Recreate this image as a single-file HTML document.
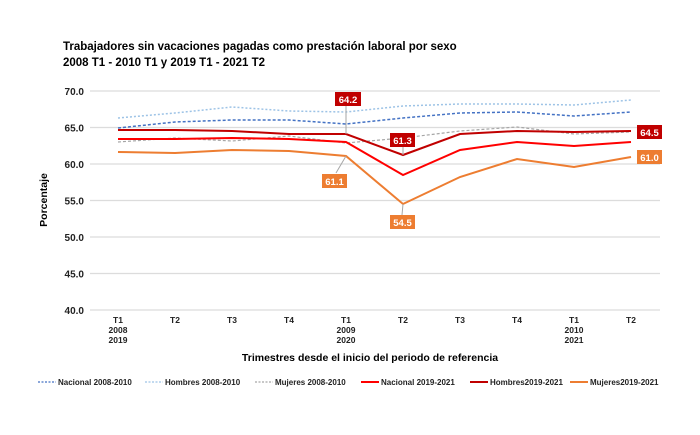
<!DOCTYPE html>
<html><head><meta charset="utf-8"><style>
body{margin:0;background:#fff;}
svg{display:block;font-family:"Liberation Sans",Arial,sans-serif;}
</style></head><body>
<svg width="700" height="435" viewBox="0 0 700 435" xmlns="http://www.w3.org/2000/svg">
<rect width="700" height="435" fill="#fff"/>
<text x="63" y="50" font-size="11.5" font-weight="bold" fill="#000">Trabajadores sin vacaciones pagadas como prestación laboral por sexo</text>
<text x="63" y="66" font-size="11.5" font-weight="bold" fill="#000">2008 T1 - 2010 T1 y 2019 T1 - 2021 T2</text>
<g stroke="#dcdcdc" stroke-width="1.2">
<line x1="90" y1="91" x2="660" y2="91"/><line x1="90" y1="127.5" x2="660" y2="127.5"/>
<line x1="90" y1="164" x2="660" y2="164"/><line x1="90" y1="200.5" x2="660" y2="200.5"/>
<line x1="90" y1="237" x2="660" y2="237"/><line x1="90" y1="273.5" x2="660" y2="273.5"/>
<line x1="90" y1="310" x2="660" y2="310"/>
</g>
<g font-size="10" font-weight="bold" fill="#222" text-anchor="end">
<text x="84" y="95">70.0</text><text x="84" y="131.5">65.0</text><text x="84" y="168">60.0</text>
<text x="84" y="204.5">55.0</text><text x="84" y="241">50.0</text><text x="84" y="277.5">45.0</text><text x="84" y="314">40.0</text>
</g>
<text transform="translate(47,200) rotate(-90)" font-size="10.5" font-weight="bold" text-anchor="middle">Porcentaje</text>
<g font-size="8.5" font-weight="bold" fill="#222" text-anchor="middle">
<text x="118" y="323">T1</text><text x="118" y="333">2008</text><text x="118" y="343">2019</text>
<text x="175" y="323">T2</text><text x="232" y="323">T3</text><text x="289" y="323">T4</text>
<text x="346" y="323">T1</text><text x="346" y="333">2009</text><text x="346" y="343">2020</text>
<text x="403" y="323">T2</text><text x="460" y="323">T3</text><text x="517" y="323">T4</text>
<text x="574" y="323">T1</text><text x="574" y="333">2010</text><text x="574" y="343">2021</text>
<text x="631" y="323">T2</text>
</g>
<text x="370" y="361" font-size="10.5" font-weight="bold" text-anchor="middle">Trimestres desde el inicio del periodo de referencia</text>
<g fill="none" stroke-width="1.5">
<polyline stroke="#9dc3e6" stroke-dasharray="2,2" points="118,118 175,113 232,107 289,111 346,112 403,106 460,104 517,104 574,105 631,100"/>
<polyline stroke="#4472c4" stroke-dasharray="3,2" points="118,128 175,122 232,120 289,120 346,124 403,118 460,113 517,112 574,116 631,112"/>
<polyline stroke="#a6a6a6" stroke-dasharray="3,2" stroke-width="1.2" points="118,142 175,138 232,141 289,136 346,143 403,138 460,131 517,127 574,134 631,132"/>
<polyline stroke="#c00000" stroke-width="2" points="118,130 175,130 232,131 289,134 346,134 403,155 460,134 517,131 574,132 631,131"/>
<polyline stroke="#ff0000" stroke-width="2" points="118,139 175,139 232,138 289,139 346,142 403,175 460,150 517,142 574,146 631,142"/>
<polyline stroke="#ed7d31" stroke-width="2" points="118,152 175,153 232,150 289,151 346,156 403,204 460,177 517,159 574,167 631,157"/>
</g>
<g stroke="#a6a6a6" stroke-width="1">
<line x1="346" y1="106" x2="346" y2="134"/><line x1="403" y1="147" x2="403" y2="155"/>
<line x1="346" y1="156" x2="336" y2="173"/><line x1="403" y1="204" x2="402" y2="215"/>
</g>
<g font-size="9.5" font-weight="bold" fill="#fff" text-anchor="middle">
<rect x="335" y="92" width="26" height="14" fill="#c00000"/><text x="348" y="103">64.2</text>
<rect x="390" y="133" width="25" height="14" fill="#c00000"/><text x="402.5" y="144">61.3</text>
<rect x="322" y="174" width="25" height="14" fill="#ed7d31"/><text x="334.5" y="185">61.1</text>
<rect x="390" y="215" width="25" height="14" fill="#ed7d31"/><text x="402.5" y="226">54.5</text>
<rect x="637" y="125" width="25" height="14" fill="#c00000"/><text x="649.5" y="136">64.5</text>
<rect x="637" y="150" width="25" height="14" fill="#ed7d31"/><text x="649.5" y="161">61.0</text>
</g>
<g font-size="8" font-weight="bold" fill="#222">
<line x1="38" y1="382" x2="56" y2="382" stroke="#4472c4" stroke-width="1.2" stroke-dasharray="2,1.5"/><text x="58" y="385">Nacional 2008-2010</text>
<line x1="145" y1="382" x2="163" y2="382" stroke="#9dc3e6" stroke-width="1.2" stroke-dasharray="2,1.5"/><text x="165" y="385">Hombres  2008-2010</text>
<line x1="255" y1="382" x2="273" y2="382" stroke="#a6a6a6" stroke-width="1.2" stroke-dasharray="2,1.5"/><text x="275" y="385">Mujeres 2008-2010</text>
<line x1="361" y1="382" x2="379" y2="382" stroke="#ff0000" stroke-width="2"/><text x="381" y="385">Nacional 2019-2021</text>
<line x1="470" y1="382" x2="488" y2="382" stroke="#c00000" stroke-width="2"/><text x="490" y="385">Hombres2019-2021</text>
<line x1="570" y1="382" x2="588" y2="382" stroke="#ed7d31" stroke-width="2"/><text x="590" y="385">Mujeres2019-2021</text>
</g>
</svg>
</body></html>
